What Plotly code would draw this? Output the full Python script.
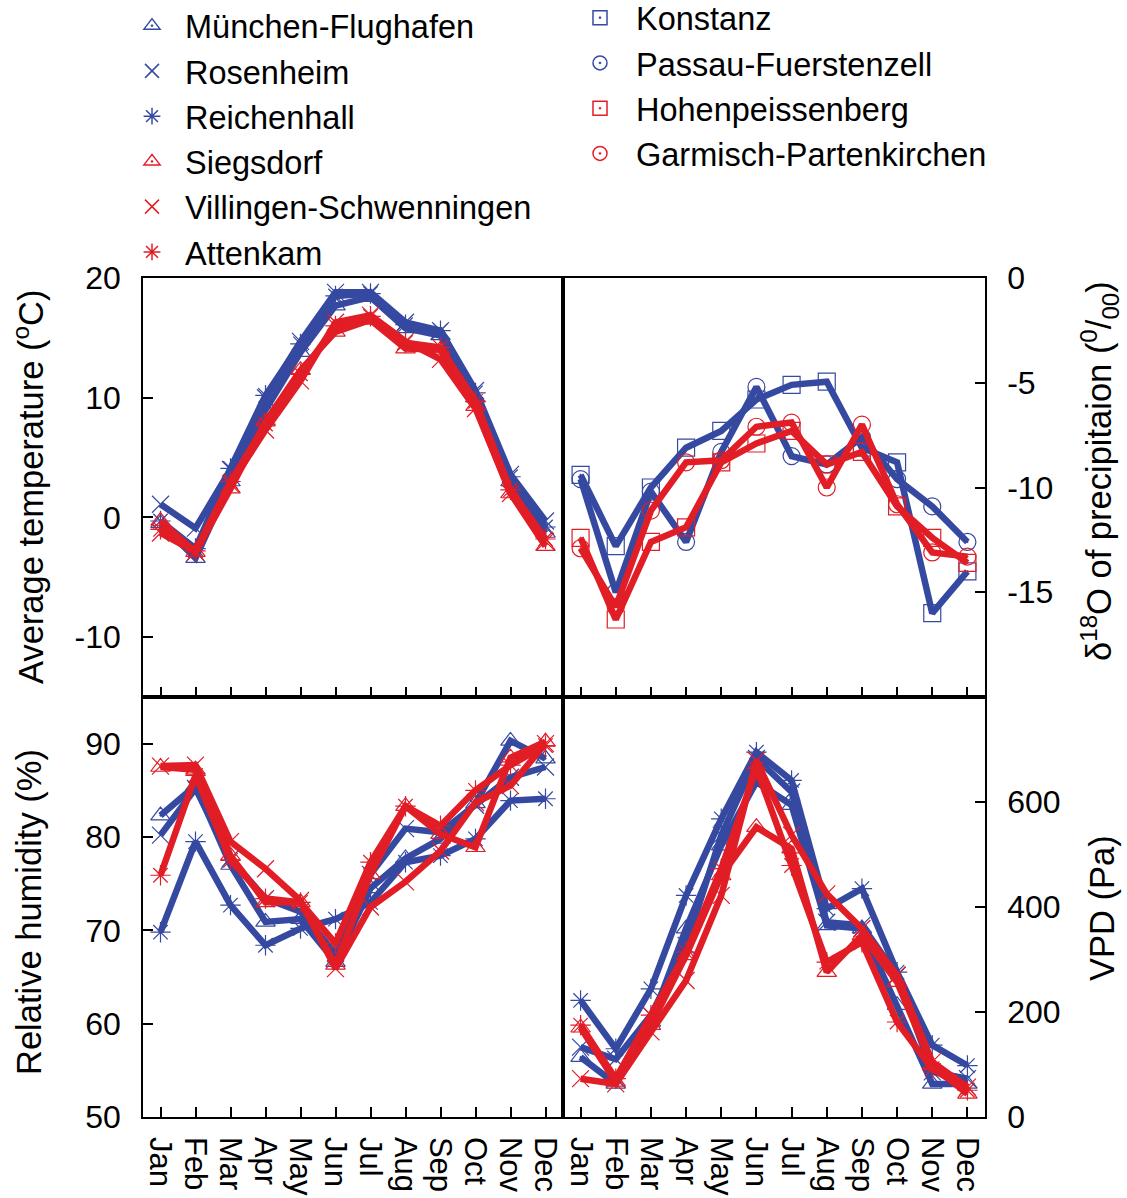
import plotly.graph_objects as go

months = ["Jan", "Feb", "Mar", "Apr", "May", "Jun", "Jul", "Aug", "Sep", "Oct", "Nov", "Dec"]

# ---- stations (left panels) ----
left_stations = ["München-Flughafen", "Rosenheim", "Reichenhall", "Siegsdorf",
                 "Villingen-Schwenningen", "Attenkam"]
# average temperature (deg C)
temp_muenchen = [-0.5, -3.4, 3.0, 9.0, 13.8, 17.7, 18.4, 15.8, 15.2, 10.0, 3.0, -1.3]
temp_rosenheim = [1.1, -0.9, 4.0, 10.0, 14.7, 18.8, 18.8, 16.3, 15.6, 10.6, 3.6, -0.3]
temp_reichenhall = [-0.3, -2.6, 4.1, 10.2, 14.5, 18.5, 18.7, 16.1, 15.6, 10.4, 3.4, -0.8]
temp_siegsdorf = [-0.3, -2.9, 2.4, 8.0, 12.3, 15.5, 16.5, 14.1, 14.0, 9.3, 2.0, -2.4]
temp_villingen = [-1.3, -2.9, 2.8, 7.3, 11.4, 16.3, 16.9, 14.7, 13.2, 9.1, 2.0, -2.0]
temp_attenkam = [-1.0, -2.8, 3.0, 7.8, 12.0, 16.0, 16.8, 14.6, 14.2, 9.7, 2.3, -1.8]
# relative humidity (%)
rh_muenchen = [82.3, 85.5, 77.0, 70.9, 71.2, 66.6, 74.5, 77.7, 79.8, 83.6, 90.3, 88.4]
rh_rosenheim = [80.2, 85.2, 77.7, 73.4, 72.0, 67.5, 76.0, 80.9, 80.5, 83.4, 86.4, 87.5]
rh_reichenhall = [69.8, 79.5, 72.7, 68.4, 70.2, 71.2, 73.0, 77.3, 78.0, 79.8, 83.9, 84.1]
rh_siegsdorf = [87.5, 87.2, 78.0, 73.0, 73.0, 66.3, 76.0, 83.3, 80.3, 78.9, 88.5, 90.2]
rh_villingen = [87.6, 87.7, 79.5, 76.6, 73.2, 65.9, 72.5, 75.2, 78.5, 83.7, 85.5, 90.0]
rh_attenkam = [75.9, 86.6, 77.5, 73.4, 73.0, 68.6, 77.3, 83.3, 81.2, 85.0, 87.7, 89.8]
# vapour pressure deficit (Pa)
vpd_muenchen = [114, 63, 181, 359, 517, 638, 594, 365, 359, 213, 63, 63]
vpd_rosenheim = [133, 110, 194, 327, 537, 683, 619, 371, 365, 270, 86, 73]
vpd_reichenhall = [222, 130, 244, 422, 568, 695, 641, 397, 435, 276, 137, 98]
vpd_siegsdorf = [170, 67, 175, 308, 460, 552, 511, 276, 346, 257, 98, 44]
vpd_villingen = [73, 63, 162, 260, 422, 679, 537, 425, 359, 270, 105, 57]
vpd_attenkam = [175, 73, 194, 314, 473, 664, 479, 295, 333, 181, 92, 51]

# ---- isotope stations (top-right panel) ----
iso_stations = ["Konstanz", "Passau-Fuerstenzell", "Hohenpeissenberg", "Garmisch-Partenkirchen"]
d18o_konstanz = [-9.4, -12.8, -10.0, -8.1, -7.3, -5.8, -5.1, -4.95, -8.1, -8.8, -16.0, -14.0]
d18o_passau = [-9.6, -15.0, -10.2, -12.6, -8.3, -5.2, -8.5, -8.9, -7.6, -9.6, -10.9, -12.6]
d18o_hohenpeissenberg = [-12.4, -16.3, -12.6, -11.9, -8.8, -7.9, -7.3, -8.9, -8.3, -10.9, -12.4, -13.6]
d18o_garmisch = [-12.9, -15.7, -11.1, -8.8, -8.7, -7.1, -6.9, -10.0, -7.0, -10.8, -13.1, -13.3]

# ---- tick labels ----
temp_ticks = [-10, 0, 10, 20]
d18o_ticks = [-15, -10, -5, 0]
rh_ticks = [50, 60, 70, 80, 90]
vpd_ticks = [0, 200, 400, 600]

BLUE = "#3649A1"
RED = "#E11D26"
FONT = "Liberation Sans"

left_style = [(BLUE, "triangle-up-open-dot"), (BLUE, "x-thin-open"), (BLUE, "asterisk-open"),
              (RED, "triangle-up-open-dot"), (RED, "x-thin-open"), (RED, "asterisk-open")]
iso_style = [(BLUE, "square-open-dot"), (BLUE, "circle-open-dot"),
             (RED, "square-open-dot"), (RED, "circle-open-dot")]

temps = [temp_muenchen, temp_rosenheim, temp_reichenhall, temp_siegsdorf, temp_villingen, temp_attenkam]
rhs = [rh_muenchen, rh_rosenheim, rh_reichenhall, rh_siegsdorf, rh_villingen, rh_attenkam]
vpds = [vpd_muenchen, vpd_rosenheim, vpd_reichenhall, vpd_siegsdorf, vpd_villingen, vpd_attenkam]
isos = [d18o_konstanz, d18o_passau, d18o_hohenpeissenberg, d18o_garmisch]

fig = go.Figure()


def add_line(x, y, color, symbol, xa, ya, name):
    fig.add_trace(go.Scatter(
        x=x, y=y, mode="lines+markers", name=name, showlegend=False,
        line=dict(color=color, width=6.5),
        marker=dict(symbol=symbol, size=17, color=color, line=dict(color=color, width=1.2)),
        xaxis=xa, yaxis=ya))


for name, (c, s), t in zip(left_stations, left_style, temps):
    add_line(months, t, c, s, "x", "y", name)
for name, (c, s), d in zip(iso_stations, iso_style, isos):
    add_line(months, d, c, s, "x2", "y2", name)
for name, (c, s), r in zip(left_stations, left_style, rhs):
    add_line(months, r, c, s, "x3", "y3", name)
for name, (c, s), v in zip(left_stations, left_style, vpds):
    add_line(months, v, c, s, "x4", "y4", name)

# legend-only entries (marker symbols only, as in the reference)
for name, (c, s) in zip(left_stations, left_style):
    fig.add_trace(go.Scatter(x=[None], y=[None], mode="markers", name=name, legend="legend",
                             marker=dict(symbol=s, size=14, color=c, line=dict(color=c, width=1.5)),
                             xaxis="x", yaxis="y"))
for name, (c, s) in zip(iso_stations, iso_style):
    fig.add_trace(go.Scatter(x=[None], y=[None], mode="markers", name=name, legend="legend2",
                             marker=dict(symbol=s, size=14, color=c, line=dict(color=c, width=1.5)),
                             xaxis="x2", yaxis="y2"))

W, H = 1127, 1198
xl = [143 / W, 563 / W]
xr = [563 / W, 985 / W]
yt = [1 - 697 / H, 1 - 278 / H]
yb = [1 - 1117 / H, 1 - 697 / H]

common = dict(showline=True, linecolor="black", linewidth=1.5, mirror=True,
              ticks="inside", ticklen=10, tickwidth=1.5, tickcolor="black",
              showgrid=False, zeroline=False, automargin=False,
              tickfont=dict(family=FONT, size=32, color="black"))

xcommon = dict(common, type="category", categoryorder="array", categoryarray=months,
               range=[-0.5, 11.5], tickmode="array", tickvals=months, ticktext=months)
xlab = dict(tickangle=90, ticklabelstandoff=12, tickfont=dict(family=FONT, size=31, color="black"))


def yticks(vals):
    return dict(tickmode="array", tickvals=vals, ticktext=[str(v) for v in vals])


fig.update_layout(
    template="none",
    width=W, height=H,
    margin=dict(l=0, r=0, t=0, b=0, autoexpand=False),
    paper_bgcolor="white", plot_bgcolor="white",
    font=dict(family=FONT, size=32, color="black"),
    xaxis=dict(xcommon, domain=xl, anchor="y", showticklabels=False),
    xaxis2=dict(xcommon, domain=xr, anchor="y2", showticklabels=False),
    xaxis3=dict(xcommon, domain=xl, anchor="y3", **xlab),
    xaxis4=dict(xcommon, domain=xr, anchor="y4", **xlab),
    yaxis=dict(common, domain=yt, anchor="x", range=[-15, 20], ticklabelstandoff=14,
               **yticks(temp_ticks)),
    yaxis2=dict(common, domain=yt, anchor="x2", side="right", range=[-20, 0],
                ticklabelstandoff=14, **yticks(d18o_ticks)),
    yaxis3=dict(common, domain=yb, anchor="x3", range=[50, 95], ticklabelstandoff=14,
                **yticks(rh_ticks)),
    yaxis4=dict(common, domain=yb, anchor="x4", side="right", range=[0, 800],
                ticklabelstandoff=14, **yticks(vpd_ticks)),
    legend=dict(x=119 / W, y=1.0 + 2 / H, xref="paper", yref="paper",
                xanchor="left", yanchor="top", itemwidth=56,
                bgcolor="rgba(0,0,0,0)", font=dict(family=FONT, size=32.5, color="black")),
    legend2=dict(x=564 / W, y=1.0 + 10 / H, xref="paper", yref="paper",
                 xanchor="left", yanchor="top", itemwidth=62,
                 bgcolor="rgba(0,0,0,0)", font=dict(family=FONT, size=32.5, color="black")),
)

title_font = dict(family=FONT, size=34.5, color="black")
fig.add_annotation(text="Average temperature (<sup>o</sup>C)", xref="paper", yref="paper",
                   x=29 / W, y=1 - 487 / H, textangle=-90, showarrow=False,
                   xanchor="center", yanchor="middle", font=title_font)
fig.add_annotation(text="Relative humidity (%)", xref="paper", yref="paper",
                   x=29 / W, y=1 - 912 / H, textangle=-90, showarrow=False,
                   xanchor="center", yanchor="middle", font=title_font)
fig.add_annotation(text="δ<sup>18</sup>O of precipitaion (<sup>0</sup>/<sub>00</sub>)",
                   xref="paper", yref="paper",
                   x=1099 / W, y=1 - 471 / H, textangle=-90, showarrow=False,
                   xanchor="center", yanchor="middle", font=title_font)
fig.add_annotation(text="VPD (Pa)", xref="paper", yref="paper",
                   x=1102 / W, y=1 - 908 / H, textangle=-90, showarrow=False,
                   xanchor="center", yanchor="middle", font=title_font)

fig.write_html("out.html", config={"displayModeBar": False},
               post_script="document.body.style.margin='0';document.body.style.overflow='hidden';")
